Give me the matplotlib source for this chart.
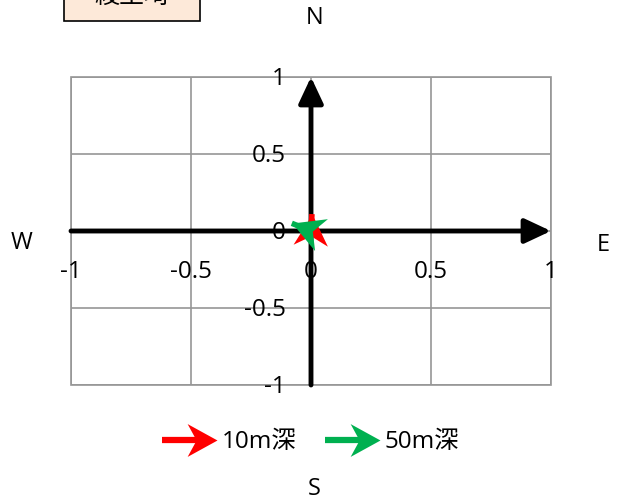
import numpy as np
import matplotlib
matplotlib.use('Agg')
import matplotlib.pyplot as plt
from matplotlib.markers import MarkerStyle
from matplotlib.path import Path
from matplotlib.patches import Rectangle
from matplotlib.lines import Line2D
from matplotlib.transforms import Affine2D

plt.rcParams['font.family'] = ['Open Sans', 'Noto Sans CJK JP', 'DejaVu Sans']

# データ
title = '綾里埼'
depths = ['10m深', '50m深']
u = [0.004, -0.08]   # 東西成分
v = [0.11, 0.05]     # 南北成分
colors = ['#FF0000', '#00B050']
ticks = [-1, -0.5, 0, 0.5, 1]
tick_labels = ['-1', '-0.5', '0', '0.5', '1']
compass = ['N', 'E', 'S', 'W']

W, H = 621, 501
fig = plt.figure(figsize=(W / 100, H / 100), dpi=100)
ax = fig.add_axes([71 / W, 1 - 385 / H, 480 / W, 308 / H])

def px(x, y):
    # ピクセル位置 -> figure座標
    return x / W, 1 - y / H

# 矢じり (先端が原点)
head = Path([(0, 0), (-1, 0.55), (-0.7, 0), (-1, -0.55), (0, 0)],
            [Path.MOVETO, Path.LINETO, Path.LINETO, Path.LINETO, Path.CLOSEPOLY])

def head_marker(angle):
    return MarkerStyle(head, transform=Affine2D().rotate_deg(angle))

ax.set_xlim(-1, 1)
ax.set_ylim(-1, 1)
ax.set_xticks(ticks)
ax.set_yticks(ticks)
ax.tick_params(length=0, labelbottom=False, labelleft=False)
ax.grid(True, color='#969696', lw=1.2)
for s in ax.spines.values():
    s.set_visible(False)
ax.add_patch(Rectangle((0, 0), 1, 1, transform=ax.transAxes, fill=False,
                       ec='#969696', lw=1.2, clip_on=False, zorder=2))

# 軸の矢印
akw = dict(arrowstyle='-|>,head_length=1.6,head_width=0.75', lw=3.5, color='black',
           mutation_scale=10, shrinkA=0, shrinkB=0)
ax.annotate('', xy=(1, 0), xytext=(-1, 0), arrowprops=akw, zorder=3)
ax.annotate('', xy=(0, 1), xytext=(0, -1), arrowprops=akw, zorder=3)

# 目盛ラベル
for t, lab in zip(ticks, tick_labels):
    ax.annotate(lab, (t, 0), xytext=(0, -29.5), textcoords='offset points',
                ha='center', va='center', fontsize=17.5, annotation_clip=False)
    ax.annotate(lab, (0, t), xytext=(-18, -1.5), textcoords='offset points',
                ha='right', va='center', fontsize=17.5, annotation_clip=False)

# 流向ベクトル
for ui, vi, c in zip(u, v, colors):
    ax.plot([0, ui], [0, vi], color=c, lw=4, solid_capstyle='butt', zorder=4)
    p0 = ax.transData.transform((0, 0))
    p1 = ax.transData.transform((ui, vi))
    ang = np.degrees(np.arctan2(p1[1] - p0[1], p1[0] - p0[0]))
    ax.plot([ui], [vi], marker=head_marker(ang), ms=45, color=c, mec='none',
            zorder=4, clip_on=False)

# 凡例
for i, (lab, c) in enumerate(zip(depths, colors)):
    x0 = 162 + 163 * i
    fig.add_artist(Line2D([x0 / W, (x0 + 35) / W], [1 - 440 / H] * 2, color=c, lw=4.5,
                          solid_capstyle='butt'))
    fig.add_artist(Line2D([(x0 + 55) / W], [1 - 440 / H], marker=head_marker(0), ms=43,
                          color=c, mec='none'))
    fig.text(*px(x0 + 60, 442), lab, va='center', fontsize=17.5)

# 方位
pos = [(315, 18), (603, 245), (314, 489), (22, 243)]
for lab, (x, y) in zip(compass, pos):
    fig.text(*px(x, y), lab, ha='center', va='center', fontsize=17)

# タイトル
fig.add_artist(Rectangle(px(64, 21), 136 / W, 40 / H, transform=fig.transFigure,
                         fc='#FDE9D9', ec='black', lw=1.2))
fig.text(*px(132, -4), title, ha='center', va='center', fontsize=18,
         family=['Noto Sans CJK JP'])

fig.savefig('out.png', dpi=100)
